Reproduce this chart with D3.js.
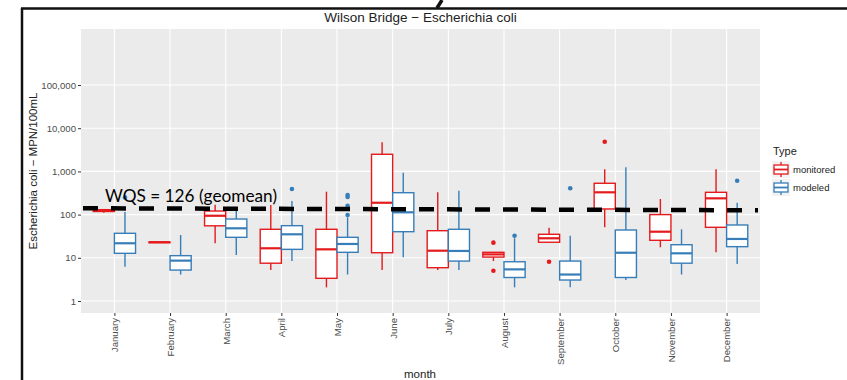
<!DOCTYPE html>
<html>
<head>
<meta charset="utf-8">
<script src="https://cdn.jsdelivr.net/npm/d3@7"></script>
<style>
  body { margin: 0; background: #fff; }
  svg { font-family: "Liberation Sans", Arial, sans-serif; }
</style>
</head>
<body>
<svg width="847" height="380"></svg>
<script>
// month categories
var months = ["January", "February", "March", "April", "May", "June",
  "July", "August", "September", "October", "November", "December"];

// monitored (red) box stats
var monLow  = [110, 23, 21.7, 5.2, 2.07, 5.2, 5.2, 8.4, 22.9, 50.8, 17.5, 13.4];
var monQ1   = [118, 23, 55, 7.5, 3.35, 13.1, 5.9, 10.4, 22.9, 135, 25.4, 50.8];
var monMed  = [122, 23, 94, 16.6, 15.7, 188, 14.6, 12.0, 28.3, 328, 40.2, 238];
var monQ3   = [130, 23, 121, 45.7, 45.7, 2489, 42.4, 13.4, 35, 531, 100, 328];
var monHigh = [135, 23, 170, 167, 339, 4720, 328, 13.4, 49.8, 1119, 230, 1119];
var monOut  = [[], [], [], [], [], [], [], [22.4, 5.0], [8.1], [4875], [], []];

// modeled (blue) box stats
var modLow  = [6.2, 4.1, 11.6, 8.4, 4.1, 10.3, 5.2, 2.07, 2.07, 3.06, 4.1, 7.2];
var modQ1   = [12.7, 5.2, 29.8, 15.7, 13.4, 40.2, 8.4, 3.5, 3.06, 3.5, 7.5, 18.1];
var modMed  = [21.7, 8.6, 48.2, 35, 20.9, 113, 14.4, 5.4, 4.1, 13.1, 12.7, 27.3];
var modQ3   = [36.9, 11.2, 79, 55.4, 29.8, 321, 45.7, 8.1, 8.4, 44, 20.1, 57.5];
var modHigh = [115, 33.7, 130, 206, 86.5, 933, 357, 28.3, 32.5, 1245, 45.7, 188];
var modOut  = [[250], [], [], [391], [98, 160, 256, 284], [], [], [32.4], [406], [], [], [609]];

// y ticks and the standard line
var yTicks = [1, 10, 100, 1000, 10000, 100000];
var wqs = 126;

var types = ["monitored", "modeled"];
var colors = { monitored: "#E41A1C", modeled: "#377EB8" };

function buildBoxes() {
  var svg = d3.select("svg");
  var panel = { left: 81, right: 760, top: 29, bottom: 313 };

  // slide frame lines around the screenshot
  svg.append("line").attr("x1", 21).attr("x2", 847).attr("y1", 8.5).attr("y2", 8.5)
    .attr("stroke", "#111").attr("stroke-width", 2.5);
  svg.append("line").attr("x1", 22).attr("x2", 22).attr("y1", 8).attr("y2", 380)
    .attr("stroke", "#111").attr("stroke-width", 2.5);
  svg.append("line").attr("x1", 442).attr("x2", 437).attr("y1", 0).attr("y2", 8)
    .attr("stroke", "#111").attr("stroke-width", 3.5);

  var step = (panel.right - panel.left) / 12.2;
  var xScale = d3.scalePoint()
    .domain(months)
    .range([panel.left + 0.6 * step, panel.right - 0.6 * step]);
  var yScale = d3.scaleLog().domain([1, 100000]).range([301, 85]);

  // gray panel
  svg.append("rect")
    .attr("x", panel.left).attr("y", panel.top)
    .attr("width", panel.right - panel.left)
    .attr("height", panel.bottom - panel.top)
    .attr("fill", "#EBEBEB");

  // grid
  svg.selectAll("line.hgrid").data(yTicks).enter().append("line")
    .attr("class", "hgrid")
    .attr("x1", panel.left).attr("x2", panel.right)
    .attr("y1", function(d) { return yScale(d); })
    .attr("y2", function(d) { return yScale(d); })
    .attr("stroke", "#fff").attr("stroke-width", 1.1);
  svg.selectAll("line.vgrid").data(months).enter().append("line")
    .attr("class", "vgrid")
    .attr("y1", panel.top).attr("y2", panel.bottom)
    .attr("x1", function(d) { return xScale(d); })
    .attr("x2", function(d) { return xScale(d); })
    .attr("stroke", "#fff").attr("stroke-width", 1.1);

  // y axis
  var yAxis = svg.append("g")
    .attr("transform", "translate(" + panel.left + ",0)")
    .call(d3.axisLeft(yScale).tickValues(yTicks).tickSize(3).tickPadding(2)
      .tickFormat(d3.format(",")));
  yAxis.select(".domain").remove();
  yAxis.selectAll("line").attr("stroke", "#333");
  yAxis.selectAll("text").attr("fill", "#4D4D4D").style("font-size", "9.6px")
    .attr("font-family", null);

  // x axis
  var xAxis = svg.append("g")
    .attr("transform", "translate(0," + panel.bottom + ")")
    .call(d3.axisBottom(xScale).tickSize(3));
  xAxis.select(".domain").remove();
  xAxis.selectAll("line").attr("stroke", "#333");
  xAxis.selectAll("text")
    .attr("fill", "#4D4D4D").style("font-size", "9.6px").attr("font-family", null)
    .attr("transform", "rotate(-90)")
    .attr("text-anchor", "end")
    .attr("x", -5).attr("y", 0).attr("dy", "0.35em");

  // titles
  svg.append("text").attr("x", (panel.left + panel.right) / 2).attr("y", 22)
    .attr("text-anchor", "middle").style("font-size", "13.5px").attr("fill", "#222")
    .text("Wilson Bridge \u2212 Escherichia coli");
  svg.append("text").attr("x", 420).attr("y", 378)
    .attr("text-anchor", "middle").style("font-size", "11.5px").attr("fill", "#222")
    .text("month");
  svg.append("text")
    .attr("transform", "translate(37," + (panel.top + panel.bottom) / 2 + ") rotate(-90)")
    .attr("text-anchor", "middle").style("font-size", "11.5px").attr("fill", "#222")
    .text("Escherichia coli \u2212 MPN/100mL");

  // build box rows
  var rows = [];
  months.forEach(function(m, i) {
    rows.push({ month: m, type: "monitored", lo: monLow[i], q1: monQ1[i], med: monMed[i],
      q3: monQ3[i], hi: monHigh[i], out: monOut[i] });
    rows.push({ month: m, type: "modeled", lo: modLow[i], q1: modQ1[i], med: modMed[i],
      q3: modQ3[i], hi: modHigh[i], out: modOut[i] });
  });

  var off = step * 0.19, bw = step * 0.38;
  function cx(d) { return xScale(d.month) + (d.type == "monitored" ? -off : off); }

  var box = svg.selectAll("g.box").data(rows).enter().append("g").attr("class", "box");
  box.append("line")
    .attr("x1", cx).attr("x2", cx)
    .attr("y1", function(d) { return yScale(d.hi); })
    .attr("y2", function(d) { return yScale(d.q3); })
    .attr("stroke", function(d) { return colors[d.type]; }).attr("stroke-width", 1.4);
  box.append("line")
    .attr("x1", cx).attr("x2", cx)
    .attr("y1", function(d) { return yScale(d.q1); })
    .attr("y2", function(d) { return yScale(d.lo); })
    .attr("stroke", function(d) { return colors[d.type]; }).attr("stroke-width", 1.4);
  box.append("rect")
    .attr("x", function(d) { return cx(d) - bw / 2; })
    .attr("width", bw)
    .attr("y", function(d) { return yScale(d.q3); })
    .attr("height", function(d) { return Math.max(yScale(d.q1) - yScale(d.q3), 0.5); })
    .attr("fill", "#fff")
    .attr("stroke", function(d) { return colors[d.type]; }).attr("stroke-width", 1.4);
  box.append("line")
    .attr("x1", function(d) { return cx(d) - bw / 2; })
    .attr("x2", function(d) { return cx(d) + bw / 2; })
    .attr("y1", function(d) { return yScale(d.med); })
    .attr("y2", function(d) { return yScale(d.med); })
    .attr("stroke", function(d) { return colors[d.type]; }).attr("stroke-width", 2.2);
  box.selectAll("circle").data(function(d) {
      return d.out.map(function(v) { return { v: v, row: d }; });
    })
    .enter().append("circle")
    .attr("cx", function(o) { return cx(o.row); })
    .attr("cy", function(o) { return yScale(o.v); })
    .attr("r", 2.3)
    .attr("fill", function(o) { return colors[o.row.type]; });

  // WQS label and dashed line
  svg.append("text").attr("x", 105).attr("y", 202)
    .attr("textLength", 172).attr("lengthAdjust", "spacingAndGlyphs")
    .attr("font-family", "Lato, 'Open Sans', sans-serif")
    .style("font-size", "17px").attr("fill", "#000")
    .text("WQS = " + wqs + " (geomean)");
  svg.append("line")
    .attr("x1", 83).attr("x2", 758)
    .attr("y1", yScale(wqs) - 2).attr("y2", yScale(wqs))
    .attr("stroke", "#000").attr("stroke-width", 4.5)
    .attr("stroke-dasharray", "15,13");

  // legend
  var lg = svg.append("g").attr("transform", "translate(772,0)");
  lg.append("text").attr("x", 1).attr("y", 155).style("font-size", "11px").attr("fill", "#222")
    .text("Type");
  var keys = lg.selectAll("g.key").data(types).enter().append("g")
    .attr("class", "key")
    .attr("transform", function(d, i) { return "translate(0," + (161 + i * 18) + ")"; });
  keys.append("rect").attr("width", 18).attr("height", 17).attr("fill", "#F2F2F2");
  keys.append("line").attr("x1", 9).attr("x2", 9).attr("y1", 1).attr("y2", 16)
    .attr("stroke", function(d) { return colors[d]; }).attr("stroke-width", 1.3);
  keys.append("rect").attr("x", 2).attr("y", 4).attr("width", 14).attr("height", 9)
    .attr("fill", "#fff")
    .attr("stroke", function(d) { return colors[d]; }).attr("stroke-width", 1.3);
  keys.append("line").attr("x1", 2).attr("x2", 16).attr("y1", 8.5).attr("y2", 8.5)
    .attr("stroke", function(d) { return colors[d]; }).attr("stroke-width", 1.8);
  keys.append("text").attr("x", 21).attr("y", 12).style("font-size", "9.5px")
    .attr("fill", "#222").text(function(d) { return d; });
}

buildBoxes();
</script>
</body>
</html>
